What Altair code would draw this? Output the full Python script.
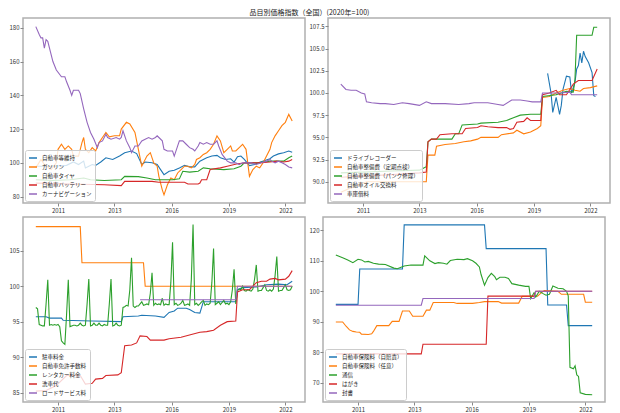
import altair as alt
import pandas as pd

TITLE = "品目別価格指数（全国）(2020年=100)"
FONT = "Noto Sans CJK JP"
COLORS = ["#1f77b4", "#ff7f0e", "#2ca02c", "#d62728", "#9467bd"]

# x: months since 2010-01
X_DOMAIN = [-7.5, 157.5]
X_TICKS = [13, 46, 79.5, 113, 146]
X_LABELS = ["2011", "2013", "2016", "2019", "2022"]

# ---------------- panel 1 ----------------
p1_names = ["自動車等維持", "ガソリン", "自動車タイヤ", "自動車バッテリー", "カーナビゲーション"]
p1_maint = [(0, 98), (10, 98), (18, 98.5), (22, 100.5), (25, 99), (28, 101), (29, 97), (31, 98), (33, 99),
            (35, 98.5), (38, 100.5), (41, 103), (45, 102), (49, 104), (52, 106), (56, 107), (59, 105.5),
            (62, 99), (64, 100.5), (68, 100), (71, 99), (73, 96), (75, 93), (78, 95), (81, 95.6), (84, 97),
            (87, 98.5), (90, 97.6), (93, 97.6), (96, 101), (100, 103), (103, 104), (106, 104.4), (108, 103),
            (111, 102), (114, 102.4), (116, 100.4), (118, 103.6), (120, 104), (122, 102), (125, 98.4),
            (128, 99), (131, 100.4), (134, 101.4), (137, 102.4), (139, 104), (142, 105.3), (145, 106),
            (148, 107), (150, 106.3)]
p1_gas = [(0, 97), (3, 102), (5, 99), (9, 96), (12, 100), (13, 108), (15, 111), (17, 108), (19, 110),
          (21, 108), (22, 104), (25, 104), (27, 112), (28, 115), (29, 108), (31, 106), (33, 109), (35, 107),
          (37, 112), (39, 115), (41, 118), (43, 115.4), (46, 116), (49, 116), (50, 120), (53, 124), (55, 123),
          (58, 118), (60, 108), (62, 98), (65, 104), (67, 106), (69, 100), (71, 98), (72, 92), (74, 84),
          (75, 81), (77, 87), (79, 91), (81, 90), (83, 94), (85, 96), (87, 98), (89, 98), (91, 97), (93, 99),
          (94, 102), (96, 103), (98, 105), (100, 106), (102, 108), (104, 111), (106, 116), (108, 113),
          (110, 106), (112, 108), (114, 110), (115, 107), (117, 107), (119, 109), (121, 111), (123, 108),
          (125, 92), (127, 96), (129, 98), (131, 97), (133, 100), (135, 104), (137, 108), (138, 112),
          (140, 116), (142, 119), (144, 122), (146, 124), (148, 128.7), (150, 124.8)]
p1_tire = [(0, 90), (10, 89.5), (20, 90), (28, 91), (32, 90), (40, 89.5), (50, 90), (52, 92), (60, 91.8),
           (65, 91), (70, 90), (80, 90), (84, 90.5), (86, 95), (90, 94.5), (95, 95), (98, 97), (102, 96.5),
           (110, 96), (116, 96.5), (120, 98), (122, 100), (130, 100), (137, 101), (145, 101), (148, 103),
           (150, 104)]
p1_batt = [(0, 88), (20, 87.5), (40, 87), (50, 86.5), (52, 89), (68, 89), (72, 88.5), (87, 88.5),
           (89, 87.5), (95, 87.5), (96, 88), (97, 90), (100, 90), (102, 96), (108, 97), (112, 98),
           (118, 99.5), (123, 100), (130, 100), (137, 100.5), (141, 101), (145, 100.5), (148, 101), (150, 102)]
p1_navi = [(0, 180.7), (2, 176), (3, 174), (4, 174), (5, 168), (6, 173), (7, 172), (8, 168), (10, 160),
           (12, 155), (15, 151), (17, 151), (18, 148), (20, 143), (21, 140), (22, 143), (25, 143), (26, 141),
           (28, 132), (30, 124), (32, 118), (34, 114), (36, 109), (37, 112), (39, 113), (41, 117), (42, 115),
           (44, 114), (47, 115), (49, 114), (50, 115), (51, 119), (53, 113), (55, 109), (56, 106), (58, 110),
           (60, 110), (62, 113), (64, 114), (66, 115), (68, 114), (70, 115), (71, 116), (72, 115), (74, 113),
           (75, 108), (77, 107), (80, 107), (81, 104), (83, 110), (84, 113), (86, 113), (88, 111), (90, 109),
           (92, 108), (93, 107), (95, 110), (96, 112), (98, 111), (100, 112), (102, 111), (104, 111),
           (106, 113), (107, 110), (109, 105), (112, 101), (114, 100), (117, 100), (119, 99), (121, 100),
           (123, 100), (126, 100), (129, 99), (132, 100), (135, 101), (137, 102), (138, 101), (140, 100),
           (142, 101), (144, 100), (146, 99), (148, 97.5), (150, 97)]
p1_series = [p1_maint, p1_gas, p1_tire, p1_batt, p1_navi]
p1_y = dict(domain=[76.2, 185.8], ticks=[80, 100, 120, 140, 160, 180], fmt="d")

# ---------------- panel 2 ----------------
p2_names = ["ドライブレコーダー", "自動車整備費（定期点検）", "自動車整備費（パンク修理）", "自動車オイル交換料", "車庫借料"]
p2_rec = [(121, 102.2), (123, 100.0), (124, 97.8), (126, 99.5), (128, 97.6), (129, 98.6), (130, 100.4),
          (132, 101.9), (134, 101.8), (135, 100.0), (137, 101.2), (138, 102.7), (139, 103.1), (140, 104.5),
          (141, 103.4), (142, 104.7), (143, 104.1), (145, 103.4), (147, 102.3), (148, 99.7), (149, 99.6)]
p2_check = [(0, 88.8), (8, 89.5), (15, 90.0), (50, 90.0), (51, 93.0), (55, 93.0), (56, 94.0), (61, 94.2),
            (67, 94.3), (72, 94.5), (76, 94.6), (80, 94.8), (82, 95.0), (92, 95.0), (94, 95.3), (101, 95.5),
            (103, 95.8), (107, 95.4), (111, 95.6), (115, 96.0), (117, 96.3), (118, 99.5), (122, 99.6),
            (126, 100.0), (130, 100.3), (134, 100.5), (137, 100.3), (140, 100.2), (142, 100.5), (146, 100.6),
            (150, 100.8)]
p2_puncture = [(0, 91.0), (30, 91.2), (46, 91.3), (48, 91.5), (50, 91.7), (51, 94.5), (53, 94.8), (65, 94.8),
               (67, 95.4), (69, 95.4), (71, 96.4), (80, 96.5), (82, 96.6), (92, 96.7), (97, 96.9), (101, 97.2),
               (105, 97.5), (111, 97.6), (117, 97.6), (118, 99.6), (126, 99.8), (132, 100.2), (136, 100.1),
               (137, 101.5), (138, 106.5), (147, 106.5), (148, 107.4), (150, 107.4)]
p2_oil = [(0, 90.5), (30, 90.8), (46, 91.0), (50, 91.1), (51, 94.5), (53, 94.8), (56, 94.8), (58, 95.3),
          (65, 95.4), (71, 95.4), (73, 96.0), (80, 96.1), (82, 96.3), (86, 96.2), (92, 96.1), (97, 96.1),
          (99, 95.9), (101, 96.0), (103, 96.7), (107, 96.8), (109, 97.2), (111, 96.9), (117, 96.9),
          (118, 99.8), (122, 100.0), (126, 100.3), (128, 99.8), (132, 99.8), (134, 100.4), (136, 101.0),
          (139, 101.4), (147, 101.4), (150, 102.7)]
p2_garage = [(0, 101.0), (3, 100.4), (6, 100.3), (9, 100.3), (12, 100.0), (14, 99.9), (15, 99.0), (18, 98.9),
             (23, 98.8), (26, 98.8), (31, 98.7), (36, 98.9), (40, 98.8), (46, 98.6), (50, 99.0), (53, 98.8),
             (61, 98.8), (69, 98.7), (75, 98.8), (78, 98.9), (86, 98.9), (92, 98.7), (95, 98.6), (100, 99.2),
             (105, 99.2), (109, 99.1), (112, 99.0), (117, 99.0), (118, 100.0), (128, 100.0), (134, 100.1),
             (135, 99.8), (150, 99.8)]
p2_series = [p2_rec, p2_check, p2_puncture, p2_oil, p2_garage]
p2_y = dict(domain=[87.6, 108.45], ticks=[90.0, 92.5, 95.0, 97.5, 100.0, 102.5, 105.0, 107.5], fmt=".1f")

# ---------------- panel 3 ----------------
p3_names = ["駐車料金", "自動車免許手数料", "レンタカー料金", "洗車代", "ロードサービス料"]
p3_parking = [(0, 95.7), (6, 95.7), (8, 95.5), (15, 95.5), (16, 95.2), (33, 95.1), (50, 95.0), (51, 95.7),
              (60, 95.8), (62, 95.9), (70, 95.8), (75, 95.6), (78, 96.3), (81, 96.5), (83, 96.9), (88, 96.9),
              (90, 96.7), (93, 96.3), (96, 96.2), (98, 97.8), (117, 97.8), (118, 99.5), (121, 99.8),
              (129, 99.9), (135, 100.2), (142, 100.3), (147, 100.2), (150, 100.7)]
p3_license = [(0, 108.4), (26, 108.4), (27, 103.3), (63, 103.3), (64, 100.0), (150, 100.0)]
p3_rental = [97.0, 96.8, 94.6, 94.5, 94.4, 94.4, 97.5, 100.9, 94.5, 94.6, 94.5, 94.6,
             94.5, 94.6, 94.3, 92.3, 92.0, 91.8, 96.0, 100.9, 94.3, 94.4, 94.5, 94.5,
             94.4, 94.5, 94.8, 94.5, 94.4, 94.5, 97.5, 101.0, 94.4, 94.5, 94.8, 94.5,
             94.5, 94.8, 94.5, 94.4, 94.6, 94.5, 94.5, 97.5, 101.0, 94.4, 94.5, 94.8,
             94.5, 94.4, 94.5, 97.0, 97.1, 97.3, 97.2, 99.5, 104.0, 97.2, 97.0, 97.2,
             97.2, 97.5, 97.8, 97.3, 97.4, 97.5, 97.4, 99.0, 101.9, 97.3, 97.6, 97.4,
             97.5, 97.4, 98.3, 97.3, 97.5, 97.4, 97.4, 100.5, 106.2, 97.4, 97.6, 97.3,
             97.4, 97.6, 98.0, 97.3, 97.4, 97.5, 97.3, 101.0, 108.7, 97.4, 97.6, 97.3,
             97.5, 97.8, 98.0, 97.3, 97.5, 97.4, 97.6, 100.5, 105.3, 97.4, 97.6, 97.8,
             97.4, 97.7, 98.0, 97.5, 97.6, 97.4, 97.8, 99.5, 102.4, 97.5, 99.4, 99.6,
             99.5, 100.0, 99.4, 99.3, 99.5, 99.4, 99.3, 99.6, 101.0, 103.0, 99.3, 99.4,
             99.4, 99.8, 100.2, 99.4, 99.3, 99.5, 99.3, 99.6, 101.5, 104.2, 99.3, 99.4,
             99.4, 99.8, 100.2, 99.5, 99.4, 99.5, 100.0]
p3_wash = [(0, 85.2), (6, 85.3), (12, 86.0), (18, 87.4), (26, 87.4), (29, 86.2), (33, 86.3), (35, 86.9),
           (39, 87.0), (41, 87.4), (48, 87.5), (50, 87.8), (52, 91.6), (56, 91.7), (59, 92.0), (61, 93.0),
           (65, 92.9), (67, 92.4), (75, 92.4), (78, 92.6), (85, 92.8), (91, 93.2), (96, 93.5), (100, 93.6),
           (104, 93.8), (108, 94.5), (112, 95.0), (117, 95.1), (118, 99.2), (121, 99.5), (125, 99.5),
           (129, 100.5), (132, 100.7), (135, 100.7), (137, 101.0), (140, 101.1), (142, 100.9), (146, 101.0),
           (148, 101.4), (150, 102.2)]
p3_road = [(61, 98.1), (117, 98.1), (118, 100.0), (150, 100.0)]
p3_series = [p3_parking, p3_license, list(enumerate(p3_rental)), p3_wash, p3_road]
p3_y = dict(domain=[83.67, 109.76], ticks=[85, 90, 95, 100, 105], fmt="d")

# ---------------- panel 4 ----------------
p4_names = ["自動車保険料（自賠責）", "自動車保険料（任意）", "通信", "はがき", "封書"]
p4_cali = [(0, 95.7), (13, 95.7), (14, 107.3), (39, 107.3), (40, 121.8), (87, 121.8), (88, 114.0),
           (123, 114.0), (124, 95.5), (135, 95.5), (136, 88.7), (150, 88.7)]
p4_vol = [(0, 89.9), (4, 89.9), (6, 88.5), (8, 87.3), (10, 86.8), (12, 86.6), (14, 86.5), (15, 85.9),
          (19, 85.8), (21, 86.0), (22, 86.8), (24, 88.7), (31, 88.7), (33, 90.1), (37, 90.1), (39, 93.5),
          (43, 93.5), (45, 91.8), (51, 91.8), (53, 93.8), (55, 93.8), (57, 96.3), (69, 96.3), (71, 96.0),
          (80, 96.0), (84, 96.3), (87, 96.6), (95, 96.6), (97, 96.1), (107, 96.1), (109, 98.3), (118, 98.4),
          (120, 99.4), (122, 100.2), (130, 100.0), (132, 99.0), (145, 99.0), (146, 96.4), (150, 96.4)]
p4_comm = [(0, 111.9), (4, 111.0), (7, 110.3), (10, 109.4), (13, 110.5), (15, 110.3), (17, 109.6),
           (19, 109.8), (22, 109.2), (25, 108.9), (29, 108.8), (34, 107.6), (36, 107.4), (40, 108.3),
           (44, 108.6), (51, 108.6), (52, 111.6), (55, 110.0), (58, 109.1), (60, 109.4), (63, 109.2),
           (65, 108.9), (67, 110.1), (71, 110.5), (75, 110.4), (77, 110.7), (80, 110.0), (82, 109.2),
           (84, 108.0), (85, 105.5), (87, 102.0), (89, 104.5), (91, 105.9), (93, 104.8), (94, 103.8),
           (96, 104.6), (99, 104.6), (101, 104.2), (103, 102.5), (107, 102.0), (111, 101.6), (113, 101.6),
           (114, 97.6), (116, 99.5), (117, 98.1), (119, 100.0), (121, 99.3), (123, 98.7), (125, 99.0),
           (127, 101.7), (130, 101.0), (133, 100.8), (135, 100.0), (136, 98.5), (137, 75.0), (139, 74.5),
           (140, 75.5), (141, 72.5), (142, 72.0), (143, 66.6), (146, 66.1), (150, 66.0)]
p4_card = [(0, 79.4), (50, 79.4), (51, 82.6), (88, 82.6), (89, 98.4), (116, 98.4), (117, 100.0), (150, 100.0)]
p4_letter = [(0, 95.4), (50, 95.4), (51, 97.6), (116, 97.6), (117, 100.0), (150, 100.0)]
p4_series = [p4_cali, p4_vol, p4_comm, p4_card, p4_letter]
p4_y = dict(domain=[63.6, 124.4], ticks=[70, 80, 90, 100, 110, 120], fmt="d")

W, H = 282, 185
label_expr = "[" + ",".join(f"'{s}'" for s in X_LABELS) + "][indexof([" + ",".join(str(v) for v in X_TICKS) + "], datum.value)]"


def panel(names, series, ycfg):
    rows = []
    for name, pts in zip(names, series):
        for t, v in pts:
            rows.append({"t": t, "v": v, "s": name})
    df = pd.DataFrame(rows)
    return alt.Chart(df).mark_line(strokeWidth=1.1).encode(
        x=alt.X("t:Q", scale=alt.Scale(domain=X_DOMAIN, nice=False, zero=False),
                axis=alt.Axis(values=X_TICKS, labelExpr=label_expr, title=None)),
        y=alt.Y("v:Q", scale=alt.Scale(domain=ycfg["domain"], nice=False, zero=False),
                axis=alt.Axis(values=ycfg["ticks"], format=ycfg["fmt"], title=None)),
        color=alt.Color("s:N", scale=alt.Scale(domain=names, range=COLORS),
                        legend=alt.Legend(orient="bottom-left", title=None)),
    ).properties(width=W, height=H)


p1 = panel(p1_names, p1_series, p1_y)
p2 = panel(p2_names, p2_series, p2_y)
p3 = panel(p3_names, p3_series, p3_y)
p4 = panel(p4_names, p4_series, p4_y)

chart = alt.vconcat(
    alt.hconcat(p1, p2, spacing=2).resolve_scale(color="independent", y="independent"),
    alt.hconcat(p3, p4, spacing=2).resolve_scale(color="independent", y="independent"),
    spacing=2,
).resolve_scale(color="independent", y="independent").properties(
    title=alt.TitleParams(TITLE, fontSize=7, font=FONT, anchor="middle", fontWeight="normal",
                          offset=1, color="#222")
).configure(
    font=FONT, padding={"left": 0, "top": 1, "right": 0, "bottom": 0}
).configure_view(
    stroke="#b0b0b0", strokeWidth=1.5
).configure_axis(
    grid=False, domain=False, labelFontSize=6, labelFont=FONT, labelColor="#333",
    tickSize=3, tickColor="#888", labelPadding=1
).configure_legend(
    symbolType="stroke", symbolStrokeWidth=1.5, symbolSize=64, labelFontSize=5.5, labelFont=FONT,
    rowPadding=0, padding=3, offset=2, fillColor="rgba(255,255,255,0.8)", strokeColor="#cccccc",
    cornerRadius=2, labelLimit=0, labelColor="#222", labelOffset=4
).configure_concat(spacing=2)

chart.save("out.html", embed_options={"renderer": "svg", "actions": False})
